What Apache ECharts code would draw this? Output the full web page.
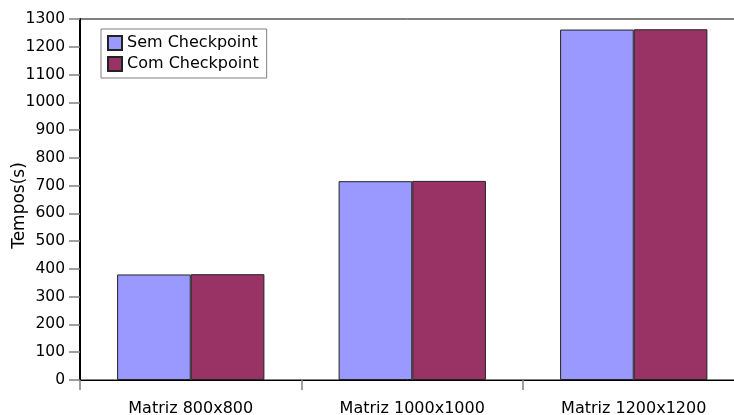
<!DOCTYPE html>
<html>
<head>
<meta charset="utf-8">
<script src="https://cdn.jsdelivr.net/npm/echarts@6/dist/echarts.min.js"></script>
<style>
html,body{margin:0;padding:0;background:#fff;}
#chart{width:734px;height:415px;}
</style>
</head>
<body>
<div id="chart"></div>
<script>
var categories = ['Matriz 800x800', 'Matriz 1000x1000', 'Matriz 1200x1200'];
var semCheckpoint = [380, 716, 1262];
var comCheckpoint = [381, 717, 1263];
var seriesNames = ['Sem Checkpoint', 'Com Checkpoint'];
var yTicks = {min: 0, max: 1300, interval: 100};

var font = 'DejaVu Sans';
var chart = echarts.init(document.getElementById('chart'), null, {renderer: 'canvas'});
chart.setOption({
  animation: false,
  backgroundColor: '#fff',
  grid: {left: 80, top: 19, width: 664.5, height: 361, show: true, borderColor: '#000', borderWidth: 1,
         backgroundColor: 'transparent', containLabel: false, outerBoundsMode: 'none'},
  legend: {
    orient: 'vertical',
    left: 101, top: 29,
    padding: [6, 8, 6, 6],
    itemGap: 5,
    itemWidth: 14, itemHeight: 14,
    borderColor: '#808080', borderWidth: 1,
    icon: 'rect',
    textStyle: {fontFamily: font, fontSize: 16, color: '#000'},
    data: seriesNames
  },
  xAxis: {
    type: 'category',
    data: categories,
    axisLine: {lineStyle: {color: '#000', width: 1}},
    axisTick: {show: true, inside: false, length: 10, lineStyle: {color: '#808080', width: 1.5}},
    axisLabel: {fontFamily: font, fontSize: 16, color: '#000', margin: 21}
  },
  yAxis: {
    type: 'value',
    min: yTicks.min, max: yTicks.max, interval: yTicks.interval,
    name: 'Tempos(s)',
    nameLocation: 'middle',
    nameGap: 52,
    nameMoveOverlap: false,
    nameTextStyle: {fontFamily: font, fontSize: 17, color: '#000', padding: [0, 12, 0, 0]},
    axisLine: {show: true, lineStyle: {color: '#000', width: 2}},
    axisTick: {show: true, inside: false, length: 11, lineStyle: {color: '#808080', width: 1.5}},
    axisLabel: {fontFamily: font, fontSize: 15.5, color: '#000', margin: 15,
                formatter: function (v) { return String(v); }},
    splitLine: {show: false}
  },
  series: [
    {
      name: seriesNames[0], type: 'bar', data: semCheckpoint,
      barGap: '0%', barCategoryGap: '33.5%',
      itemStyle: {color: '#9999ff', borderColor: '#222', borderWidth: 1}
    },
    {
      name: seriesNames[1], type: 'bar', data: comCheckpoint,
      itemStyle: {color: '#993366', borderColor: '#222', borderWidth: 1}
    }
  ]
});
</script>
</body>
</html>
